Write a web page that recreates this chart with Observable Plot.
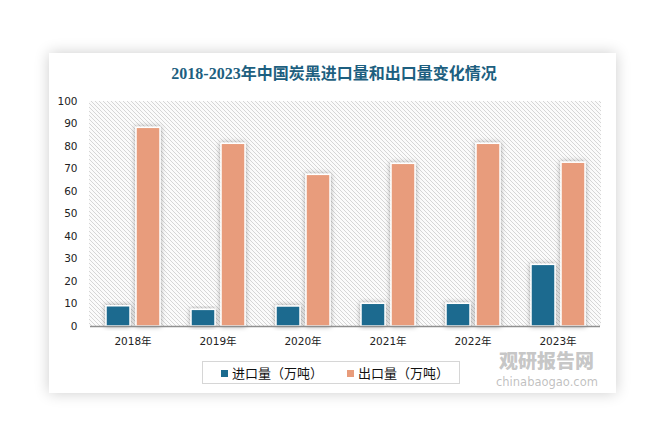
<!DOCTYPE html>
<html>
<head>
<meta charset="utf-8">
<script src="https://cdn.jsdelivr.net/npm/d3@7"></script>
<script src="https://cdn.jsdelivr.net/npm/@observablehq/plot@0.6"></script>
<style>
  html, body { margin: 0; padding: 0; background: #fff; }
  #page { position: relative; width: 668px; height: 447px; overflow: hidden; background: #fff; font-family: "DejaVu Sans", "Noto Sans CJK SC", sans-serif; }
  #card { position: absolute; left: 49px; top: 53px; width: 567px; height: 340px; background: #fff; box-shadow: 0 0 14px rgba(0,0,0,0.2); }
  #title { position: absolute; left: 0; width: 668px; top: 63px; text-align: center; font-family: "Liberation Serif", "Noto Sans CJK SC", serif; font-weight: bold; font-size: 16px; color: #1d5f80; line-height: 22px; }
  #chart { position: absolute; left: 0; top: 90px; }
  #legend { position: absolute; left: 202px; top: 361px; width: 258px; height: 23px; border: 1px solid #d6d6d6; box-sizing: border-box; font-family: "Noto Sans CJK SC", sans-serif; font-size: 13px; color: #111; }
  .li { position: absolute; top: 2px; line-height: 18px; white-space: nowrap; }
  .sw { display: inline-block; width: 7px; height: 7px; margin-right: 4px; vertical-align: 1px; }
  #wm1 { position: absolute; left: 499px; top: 350px; font-family: "Noto Sans CJK SC", sans-serif; font-weight: 900; font-size: 19px; line-height: 20px; color: rgba(150,150,150,0.55); }
  #wm2 { position: absolute; left: 496px; top: 376px; font-family: "DejaVu Sans", sans-serif; font-size: 11.5px; line-height: 13px; color: rgba(150,150,150,0.6); }
</style>
</head>
<body>
<div id="page">
  <div id="card"></div>
  <div id="title">2018-2023年中国炭黑进口量和出口量变化情况</div>
  <div id="chart"></div>
  <div id="legend"></div>
  <div id="wm1">观研报告网</div>
  <div id="wm2">chinabaogao.com</div>
</div>
<script>
const years = ["2018", "2019", "2020", "2021", "2022", "2023"];
const seriesNames = ["进口量（万吨）", "出口量（万吨）"];
const importValues = [9.0, 7.4, 8.9, 10.1, 10.1, 27.4];
const exportValues = [88.3, 81.2, 67.4, 72.3, 81.2, 72.8];
const colors = ["#1b6b8f", "#e89c7b"];
const yTicks = [0, 10, 20, 30, 40, 50, 60, 70, 80, 90, 100];

const data = years.flatMap((y, i) => [
  {year: y, series: seriesNames[0], value: importValues[i]},
  {year: y, series: seriesNames[1], value: exportValues[i]}
]);

const W = 668, H = 270;
const chart = Plot.plot({
  width: W, height: H,
  marginLeft: 89, marginRight: 67, marginTop: 11, marginBottom: 34,
  style: {fontFamily: "'DejaVu Sans', 'Noto Sans CJK SC', sans-serif", fontSize: "10.5px", color: "#222", background: "transparent"},
  fx: {domain: years, padding: 0, label: null, tickFormat: d => d + "年", tickSize: 0, tickPadding: 11, axis: "bottom"},
  x: {domain: seriesNames, axis: null, paddingInner: 0.2, paddingOuter: 0.5},
  y: {domain: [0, 100], ticks: yTicks, label: null, tickSize: 0, tickPadding: 13},
  color: {domain: seriesNames, range: colors},
  marks: [
    Plot.barY(data, {fx: "year", x: "series", y: "value", fill: "series", stroke: "white", strokeWidth: 1.5}),
    Plot.ruleY([0], {stroke: "#8f8f8f", strokeWidth: 1.5})
  ]
});

// defs: hatch pattern + shadow
const svg = d3.select(chart);
const defs = svg.insert("defs", ":first-child");
const pat = defs.append("pattern").attr("id", "hatch").attr("patternUnits", "userSpaceOnUse")
  .attr("width", 4).attr("height", 4);
pat.append("rect").attr("width", 4).attr("height", 4).attr("fill", "#fbfbfb");
pat.append("path").attr("d", "M-1,-1 L5,5 M-1,3 L1,5 M3,-1 L5,1").attr("stroke", "#d6d6d6").attr("stroke-width", 1);
const f = defs.append("filter").attr("id", "sh").attr("x", "-40%").attr("y", "-20%").attr("width", "180%").attr("height", "140%");
f.append("feDropShadow").attr("dx", 0).attr("dy", 0).attr("stdDeviation", 2.5).attr("flood-color", "#000").attr("flood-opacity", 0.35);

const fxRange = chart.scale("fx").range;
const yRange = chart.scale("y").range;
svg.insert("rect", "defs + *")
  .attr("x", Math.min(...fxRange)).attr("y", Math.min(...yRange))
  .attr("width", Math.abs(fxRange[1] - fxRange[0])).attr("height", Math.abs(yRange[0] - yRange[1]))
  .attr("fill", "url(#hatch)");
svg.selectAll("g[aria-label='bar'] rect").attr("filter", "url(#sh)");

document.getElementById("chart").appendChild(chart);

// legend
const legend = document.getElementById("legend");
const lx = [18, 144];
seriesNames.forEach((s, i) => {
  const d = document.createElement("div");
  d.className = "li";
  d.style.left = lx[i] + "px";
  d.innerHTML = `<span class="sw" style="background:${colors[i]}"></span>${s}`;
  legend.appendChild(d);
});
</script>
</body>
</html>
